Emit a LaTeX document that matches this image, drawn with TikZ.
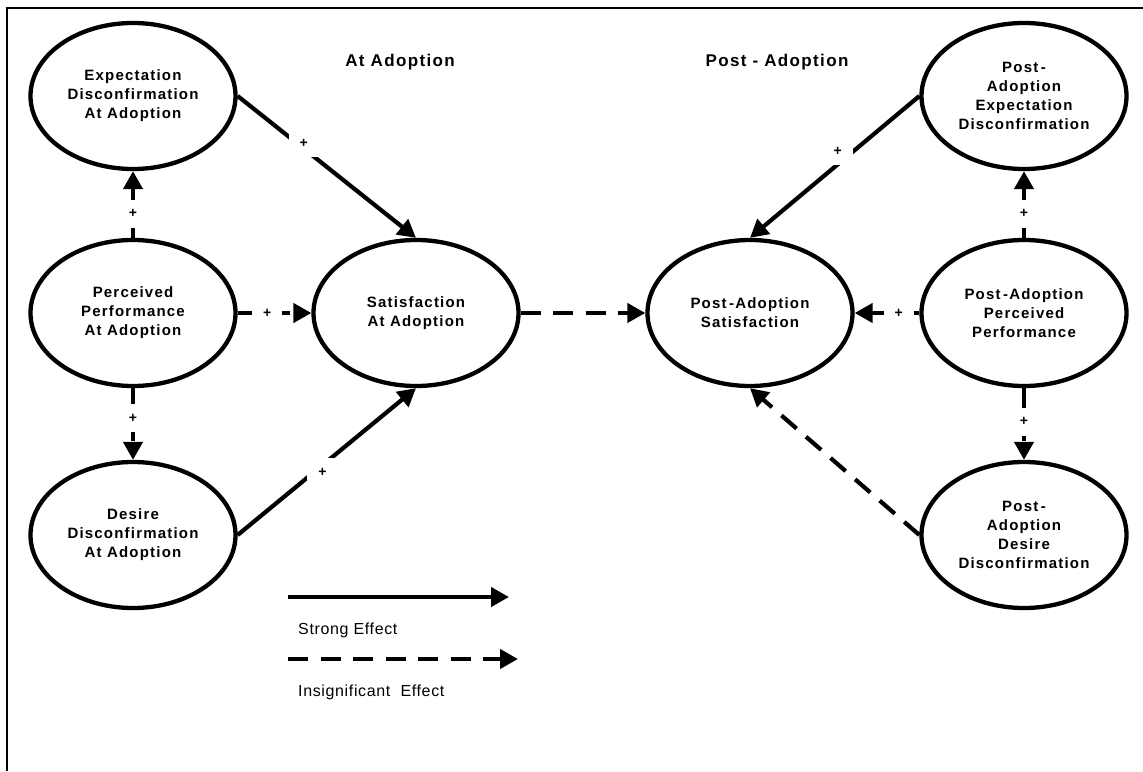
\documentclass[tikz,border=0pt]{standalone}
\usepackage{fontspec}
\setmainfont{Liberation Sans}
\newfontfamily\boldsp[LetterSpace=8]{Liberation Sans}
\newfontfamily\legsp[LetterSpace=4]{Liberation Sans}
\usetikzlibrary{shapes.geometric,arrows.meta}
\begin{document}
\begin{tikzpicture}[x=1pt,y=-1pt,
  latent/.style={ellipse, draw, line width=4.3pt, minimum width=205pt, minimum height=146pt,
    inner sep=0pt, align=center, font=\boldsp\bfseries\fontsize{15}{19}\selectfont},
  conn/.style={line width=4.2pt, -{Triangle[length=18pt,width=19pt]}},
  dsh/.style={conn, dash pattern=on 20pt off 12.5pt},
  sgn/.style={fill=white, minimum width=30pt, minimum height=28pt, inner sep=0pt,
    font=\bfseries\fontsize{14}{16}\selectfont},
  head/.style={font=\boldsp\bfseries\fontsize{17}{20}\selectfont},
  legtext/.style={anchor=west, inner sep=0pt, font=\legsp\fontsize{16}{19}\selectfont}]
\useasboundingbox (0,0) rectangle (1143,771);
\fill[white] (0,0) rectangle (1143,771);
\draw[line width=2pt] (7,771) -- (7,8) -- (1143,8);

\node[head] (h1) at (400,62) {At Adoption};
\node[head] (h2) at (777,62) {Post - Adoption};

\node[latent] (ed) at (133,96) {Expectation\\Disconfirmation\\At Adoption};
\node[latent] (pp) at (133,313) {Perceived\\Performance\\At Adoption};
\node[latent] (dd) at (133,535) {Desire\\Disconfirmation\\At Adoption};
\node[latent] (sa) at (416,313) {Satisfaction\\At Adoption};
\node[latent] (ps) at (750,313) {Post\,-Adoption\\Satisfaction};
\node[latent] (ped) at (1024,96) {Post\,-\\Adoption\\Expectation\\Disconfirmation};
\node[latent] (ppp) at (1024,313) {Post\,-Adoption\\Perceived\\Performance};
\node[latent] (pdd) at (1024,535) {Post\,-\\Adoption\\Desire\\Disconfirmation};

\draw[conn] (ed.east) -- node[sgn, pos=0.37, yshift=5pt] {+} (sa.north);
\draw[conn] (dd.east) -- node[sgn, pos=0.475, yshift=-7pt] {+} (sa.south);
\draw[dsh] (pp.north) -- node[sgn, pos=0.36] {+} (ed.south);
\draw[dsh] (pp.south) -- node[sgn, pos=0.42] {+} (dd.north);
\draw[dsh] (pp.east) -- node[sgn, pos=0.4] {+} (sa.west);
\draw[dsh] (sa.east) -- (ps.west);
\draw[conn] (ped.west) -- node[sgn, pos=0.482, yshift=13pt] {+} (ps.north);
\draw[dsh] (ppp.west) -- node[sgn, pos=0.32] {+} (ps.east);
\draw[dsh] (ppp.north) -- node[sgn, pos=0.36] {+} (ped.south);
\draw[dsh] (ppp.south) -- node[sgn, pos=0.47] {+} (pdd.north);
\draw[dsh] (pdd.west) -- (ps.south);

\coordinate (s1) at (288,597);
\coordinate (s2) at (509,597);
\draw[conn] (s1) -- (s2);
\coordinate (d1) at (288,659);
\coordinate (d2) at (518,659);
\draw[dsh] (d1) -- (d2);
\node[legtext] (l1) at (298,630) {Strong Effect};
\node[legtext] (l2) at (298,692) {Insignificant\ \ Effect};
\end{tikzpicture}
\end{document}
